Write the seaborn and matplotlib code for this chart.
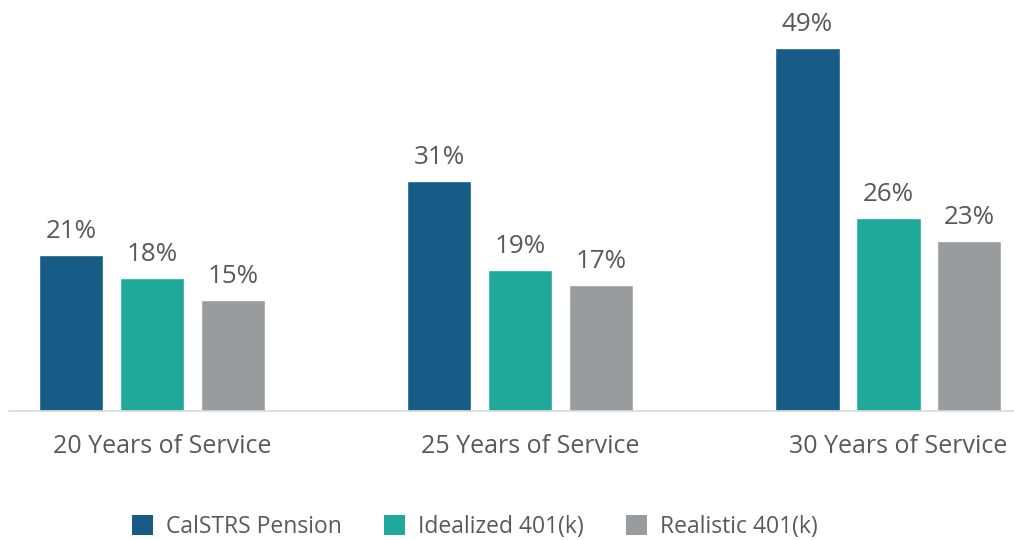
import pandas as pd
import matplotlib.pyplot as plt
import matplotlib.transforms as mtransforms
from matplotlib.patches import Patch
import seaborn as sns

# chart values
groups = ['20 Years of Service', '25 Years of Service', '30 Years of Service']
series = ['CalSTRS Pension', 'Idealized 401(k)', 'Realistic 401(k)']
pension = [21, 31, 49]
idealized = [18, 19, 26]
realistic = [15, 17, 23]
colors = ['#165c87', '#1fa99a', '#999c9f']

df = pd.DataFrame({
    'group': groups * 3,
    'series': [series[0]] * 3 + [series[1]] * 3 + [series[2]] * 3,
    'value': pension + idealized + realistic,
})

sns.set_theme(style='white')
plt.rcParams['font.family'] = ['Open Sans', 'DejaVu Sans']
txt = '#595959'

fig = plt.figure(figsize=(10.14, 5.4), dpi=100)
ax = fig.add_axes([9 / 1014, 129 / 540, 1 - 9 / 1014, 411 / 540])

sns.barplot(data=df, x='group', y='value', hue='series', palette=colors,
            width=0.66, gap=0.2, saturation=1, legend=False, ax=ax)

for c in ax.containers:
    ax.bar_label(c, labels=[f'{v:.0f}%' for v in c.datavalues], padding=8,
                 fontsize=18.7, color=txt)

ax.set_xlim(-0.3886, 2.342)
ax.set_ylim(0, 55.48)
ax.set_xlabel('')
ax.set_ylabel('')
ax.set_yticks([])
ax.tick_params(axis='x', length=0, pad=16.5, labelsize=18, labelcolor=txt)
offset = mtransforms.ScaledTranslation(10 / 100, 0, fig.dpi_scale_trans)
for lab in ax.get_xticklabels():
    lab.set_transform(lab.get_transform() + offset)

for s in ['top', 'right', 'left']:
    ax.spines[s].set_visible(False)
ax.spines['bottom'].set_color('#d9d9d9')
ax.spines['bottom'].set_linewidth(1.2)

handles = [Patch(facecolor=col, edgecolor='none') for col in colors]
fig.legend(handles, series, loc='center', bbox_to_anchor=(475 / 1014, 1 - 527 / 540),
           ncol=3, frameon=False, fontsize=16.5, labelcolor=txt,
           handlelength=0.92, handleheight=0.95, handletextpad=0.55,
           columnspacing=1.85)

fig.savefig('out.png', dpi=100)
